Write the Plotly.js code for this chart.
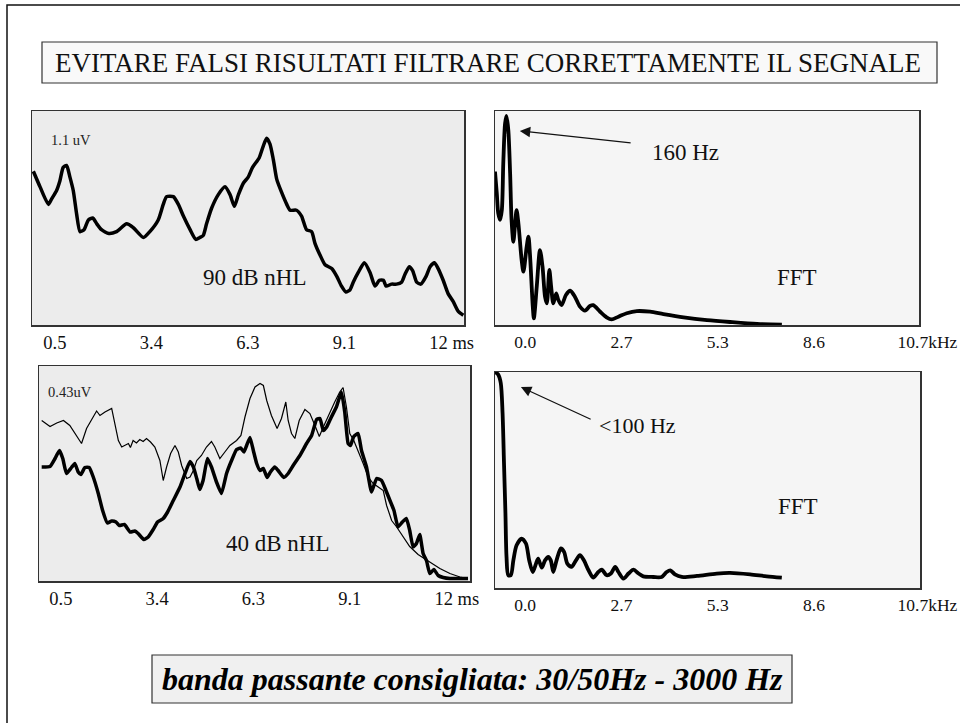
<!DOCTYPE html>
<html>
<head>
<meta charset="utf-8">
<script src="https://cdn.plot.ly/plotly-3.0.1.min.js"></script>
<style>html,body{margin:0;padding:0;background:#fff;}#chart{width:960px;height:723px;}</style>
</head>
<body>
<div id="chart"></div>
<script>
// ---- Data ----
// Top-left: ABR at 90 dB nHL (time ms, amplitude uV)
const t90 = [0.24,0.44,0.69,0.79,0.93,1.03,1.13,1.23,1.33,1.43,1.53,1.63,1.75,1.88,2.01,2.13,2.27,2.49,2.72,3.02,3.22,3.52,3.71,3.96,4.11,4.21,4.41,4.56,4.71,4.91,5.08,5.20,5.30,5.40,5.55,5.75,5.95,6.10,6.23,6.35,6.50,6.64,6.77,6.97,7.09,7.19,7.29,7.39,7.49,7.64,7.79,7.89,8.08,8.23,8.38,8.53,8.63,8.78,8.93,9.13,9.28,9.42,9.55,9.67,9.77,9.92,10.10,10.27,10.42,10.55,10.67,10.75,10.91,11.06,11.21,11.31,11.44,11.54,11.66,11.78,11.94,12.06,12.19,12.30,12.45,12.60,12.75,12.90,13.05];
const v90 = [0.79,0.71,0.62,0.65,0.69,0.74,0.81,0.82,0.76,0.69,0.57,0.48,0.49,0.54,0.55,0.52,0.49,0.47,0.48,0.52,0.50,0.45,0.48,0.54,0.62,0.66,0.66,0.62,0.56,0.49,0.44,0.45,0.46,0.52,0.60,0.67,0.71,0.67,0.61,0.67,0.73,0.76,0.81,0.86,0.92,0.96,0.93,0.85,0.75,0.68,0.62,0.59,0.59,0.56,0.49,0.48,0.42,0.36,0.31,0.29,0.25,0.20,0.17,0.18,0.22,0.27,0.32,0.27,0.20,0.23,0.23,0.20,0.21,0.21,0.22,0.26,0.30,0.28,0.22,0.21,0.25,0.30,0.32,0.29,0.23,0.16,0.12,0.07,0.05];

// Bottom-left: ABR at 40 dB nHL, thick trace
const t40a = [0.31,0.56,0.71,0.84,0.94,1.05,1.20,1.30,1.40,1.48,1.60,1.73,1.85,2.00,2.13,2.27,2.40,2.53,2.63,2.78,2.95,3.09,3.19,3.36,3.49,3.64,3.77,3.94,4.07,4.24,4.44,4.59,4.74,4.84,4.94,5.03,5.13,5.26,5.38,5.53,5.68,5.83,5.98,6.13,6.25,6.35,6.43,6.53,6.63,6.73,6.83,6.93,7.04,7.14,7.27,7.37,7.54,7.67,7.82,8.02,8.22,8.37,8.52,8.62,8.72,8.82,8.96,9.11,9.26,9.36,9.46,9.53,9.63,9.76,9.86,10.01,10.16,10.31,10.46,10.59,10.71,10.83,10.95,11.08,11.20,11.30,11.40,11.50,11.60,11.70,11.80,11.90,12.02,12.15,12.30,12.50,12.80,13.04];
const v40a = [0.228,0.229,0.245,0.261,0.245,0.215,0.227,0.235,0.218,0.213,0.227,0.227,0.208,0.175,0.141,0.116,0.120,0.118,0.111,0.113,0.098,0.100,0.095,0.083,0.088,0.103,0.118,0.125,0.138,0.161,0.188,0.215,0.239,0.228,0.205,0.183,0.201,0.245,0.228,0.198,0.175,0.215,0.241,0.263,0.266,0.258,0.271,0.287,0.261,0.235,0.221,0.225,0.207,0.218,0.228,0.221,0.207,0.215,0.231,0.251,0.275,0.291,0.323,0.325,0.301,0.308,0.328,0.348,0.378,0.338,0.275,0.271,0.289,0.295,0.261,0.228,0.178,0.205,0.201,0.181,0.161,0.141,0.108,0.118,0.125,0.101,0.068,0.075,0.093,0.055,0.041,0.015,0.023,0.011,0.007,0.005,0.005,0.005];

// Bottom-left: ABR at 40 dB nHL, thin trace
const t40b = [0.31,0.56,0.76,0.96,1.15,1.35,1.50,1.65,1.80,1.95,2.05,2.20,2.40,2.50,2.60,2.70,2.80,2.90,2.96,3.04,3.14,3.24,3.34,3.44,3.56,3.69,3.84,3.94,4.04,4.16,4.29,4.39,4.49,4.64,4.74,4.84,4.94,5.08,5.23,5.38,5.48,5.63,5.78,5.93,6.13,6.26,6.38,6.53,6.68,6.83,6.93,7.03,7.17,7.34,7.47,7.60,7.67,7.77,7.87,8.00,8.17,8.32,8.47,8.60,8.72,8.87,9.06,9.21,9.31,9.41,9.51,9.63,9.76,9.91,10.06,10.21,10.36,10.51,10.61,10.76,10.91,11.10,11.30,11.55,11.85,12.20,12.50,12.80,13.04];
const v40b = [0.321,0.309,0.316,0.321,0.311,0.291,0.275,0.305,0.323,0.340,0.331,0.338,0.345,0.311,0.281,0.268,0.271,0.275,0.267,0.281,0.276,0.283,0.279,0.285,0.278,0.268,0.241,0.201,0.228,0.255,0.271,0.258,0.231,0.205,0.208,0.221,0.241,0.251,0.268,0.279,0.268,0.245,0.258,0.271,0.281,0.291,0.328,0.365,0.388,0.395,0.391,0.361,0.331,0.305,0.325,0.358,0.321,0.295,0.285,0.321,0.343,0.335,0.311,0.289,0.308,0.331,0.358,0.378,0.387,0.348,0.295,0.281,0.261,0.235,0.208,0.195,0.188,0.181,0.151,0.121,0.108,0.088,0.069,0.053,0.040,0.025,0.015,0.008,0.005];

// Top-right: FFT of 90 dB response (kHz, relative magnitude)
const f1 = [-0.50,-0.45,-0.41,-0.36,-0.31,-0.27,-0.22,-0.18,-0.13,-0.08,-0.04,0.01,0.06,0.10,0.15,0.24,0.29,0.38,0.43,0.47,0.55,0.58,0.66,0.75,0.82,0.89,0.94,1.01,1.06,1.12,1.20,1.26,1.35,1.47,1.59,1.72,1.86,2.00,2.14,2.23,2.42,2.60,2.74,2.93,3.16,3.44,3.81,4.18,4.74,5.39,6.03,6.78,7.47];
const a1 = [0.717,0.615,0.522,0.491,0.537,0.755,0.942,0.977,0.911,0.709,0.491,0.389,0.475,0.537,0.475,0.304,0.249,0.366,0.413,0.335,0.086,0.031,0.179,0.350,0.273,0.132,0.101,0.257,0.179,0.101,0.148,0.117,0.093,0.140,0.160,0.132,0.086,0.067,0.089,0.093,0.062,0.036,0.026,0.039,0.055,0.065,0.062,0.051,0.036,0.023,0.014,0.005,0.002];

// Bottom-right: FFT of 40 dB response
const f2 = [-0.50,-0.41,-0.34,-0.29,-0.25,-0.21,-0.18,-0.13,-0.06,0.01,0.10,0.24,0.36,0.45,0.55,0.64,0.70,0.80,0.89,0.98,1.05,1.12,1.21,1.33,1.42,1.51,1.63,1.75,1.86,1.97,2.10,2.23,2.37,2.47,2.60,2.72,2.84,2.93,3.07,3.21,3.35,3.49,3.62,3.90,4.13,4.27,4.37,4.50,4.69,5.11,5.66,6.03,6.59,7.05,7.47];
const a2 = [1.000,0.988,0.949,0.810,0.577,0.345,0.144,0.059,0.059,0.128,0.198,0.229,0.206,0.128,0.074,0.113,0.136,0.094,0.128,0.144,0.128,0.074,0.128,0.183,0.167,0.113,0.098,0.128,0.152,0.128,0.082,0.048,0.074,0.085,0.059,0.067,0.098,0.074,0.043,0.067,0.085,0.067,0.054,0.051,0.051,0.074,0.082,0.063,0.051,0.056,0.067,0.070,0.063,0.054,0.048];

// Tick labels
const msTickVals = [0.5, 3.375, 6.25, 9.125, 12];
const msTickText = ['0.5', '3.4', '6.3', '9.1', '12 ms'];
const kHzTickVals = [0, 2.675, 5.35, 8.025, 10.65];
const kHzTickText = ['0.0', '2.7', '5.3', '8.6', '10.7kHz'];

// ---- Layout helpers ----
const W = 960, H = 723;
const px = x => x / W;
const py = y => 1 - y / H;
const SERIF = 'Liberation Serif, Times New Roman, serif';
const BLACK = '#000';

function xax(domain, range, vals, text, ticklen, fs) {
  return {
    domain: domain, range: range, tickmode: 'array', tickvals: vals, ticktext: text,
    ticks: 'outside', ticklen: ticklen, tickcolor: 'rgba(0,0,0,0)',
    ticklabelposition: 'outside right', ticklabeloverflow: 'allow',
    showgrid: false, zeroline: false, showline: true, mirror: true,
    linecolor: '#333', linewidth: 1.5,
    tickfont: {family: SERIF, size: fs, color: '#111'}
  };
}
function yax(domain, range) {
  return {
    domain: domain, range: range, showticklabels: false, ticks: '',
    showgrid: false, zeroline: false, showline: true, mirror: true,
    linecolor: '#333', linewidth: 1.5
  };
}

const traces = [
  {x: t90, y: v90, xaxis: 'x', yaxis: 'y', type: 'scatter', mode: 'lines',
   line: {color: BLACK, width: 3.5, shape: 'spline', smoothing: 0.6}, hoverinfo: 'skip'},
  {x: f1, y: a1, xaxis: 'x2', yaxis: 'y2', type: 'scatter', mode: 'lines',
   line: {color: BLACK, width: 3.8, shape: 'spline', smoothing: 0.8}, hoverinfo: 'skip'},
  {x: t40b, y: v40b, xaxis: 'x3', yaxis: 'y3', type: 'scatter', mode: 'lines',
   line: {color: BLACK, width: 1.2}, hoverinfo: 'skip'},
  {x: t40a, y: v40a, xaxis: 'x3', yaxis: 'y3', type: 'scatter', mode: 'lines',
   line: {color: BLACK, width: 3.5, shape: 'spline', smoothing: 0.4}, hoverinfo: 'skip'},
  {x: f2, y: a2, xaxis: 'x4', yaxis: 'y4', type: 'scatter', mode: 'lines',
   line: {color: BLACK, width: 3.8, shape: 'spline', smoothing: 0.8}, hoverinfo: 'skip'}
];

const layout = {
  width: W, height: H, margin: {l: 0, r: 0, t: 0, b: 0},
  paper_bgcolor: '#fff', showlegend: false,
  font: {family: SERIF, color: '#111'},
  title: {
    text: 'EVITARE FALSI RISULTATI FILTRARE CORRETTAMENTE IL SEGNALE',
    x: px(488), xanchor: 'center', y: py(63), yanchor: 'middle',
    xref: 'paper', yref: 'paper',
    font: {family: SERIF, size: 27, color: '#111'}
  },
  xaxis: Object.assign(xax([px(32), px(464)], [0.2, 13.07], msTickVals, msTickText, 8, 18.5), {anchor: 'y'}),
  yaxis: Object.assign(yax([py(325), py(111)], [0, 1.1]), {anchor: 'x'}),
  xaxis2: Object.assign(xax([px(495), px(919)], [-0.5, 11.28], kHzTickVals, kHzTickText, 14, 17.5), {anchor: 'y2'}),
  yaxis2: Object.assign(yax([py(325), py(111)], [0, 1]), {anchor: 'x2'}),
  xaxis3: Object.assign(xax([px(39), px(470)], [0.23, 13.10], msTickVals, msTickText, 7, 18.5), {anchor: 'y3'}),
  yaxis3: Object.assign(yax([py(581), py(366)], [0, 0.43]), {anchor: 'x3'}),
  xaxis4: Object.assign(xax([px(495), px(920)], [-0.5, 11.31], kHzTickVals, kHzTickText, 7, 17.5), {anchor: 'y4'}),
  yaxis4: Object.assign(yax([py(588), py(372)], [0, 1]), {anchor: 'x4'}),
  shapes: [
    // outer frame
    {type: 'rect', xref: 'paper', yref: 'paper', x0: px(7), x1: 1.05, y0: -0.05, y1: py(5),
     line: {color: '#111', width: 1.5}, layer: 'below'},
    // title box
    {type: 'rect', xref: 'paper', yref: 'paper', x0: px(42), x1: px(937), y0: py(83), y1: py(42),
     line: {color: '#333', width: 1.2}, fillcolor: '#f9f9f9', layer: 'below'},
    // bottom box
    {type: 'rect', xref: 'paper', yref: 'paper', x0: px(152), x1: px(792), y0: py(703), y1: py(655),
     line: {color: '#333', width: 1.2}, fillcolor: '#f0f0f0', layer: 'below'},
    // panel backgrounds
    {type: 'rect', xref: 'x domain', yref: 'y domain', x0: 0, x1: 1, y0: 0, y1: 1,
     line: {width: 0}, fillcolor: '#ececec', layer: 'below'},
    {type: 'rect', xref: 'x2 domain', yref: 'y2 domain', x0: 0, x1: 1, y0: 0, y1: 1,
     line: {width: 0}, fillcolor: '#f5f5f5', layer: 'below'},
    {type: 'rect', xref: 'x3 domain', yref: 'y3 domain', x0: 0, x1: 1, y0: 0, y1: 1,
     line: {width: 0}, fillcolor: '#ececec', layer: 'below'},
    {type: 'rect', xref: 'x4 domain', yref: 'y4 domain', x0: 0, x1: 1, y0: 0, y1: 1,
     line: {width: 0}, fillcolor: '#f5f5f5', layer: 'below'}
  ],
  annotations: [
    {xref: 'x', yref: 'y', x: 1.36, y: 0.951, text: '1.1 uV', showarrow: false,
     font: {family: SERIF, size: 14.5, color: '#222'}},
    {xref: 'x', yref: 'y', x: 6.84, y: 0.242, text: '90 dB nHL', showarrow: false,
     font: {family: SERIF, size: 23, color: '#111'}},
    {xref: 'x2', yref: 'y2', x: 4.78, y: 0.808, text: '160 Hz', showarrow: false,
     font: {family: SERIF, size: 23, color: '#111'}},
    {xref: 'x2', yref: 'y2', x: 0.19, y: 0.907, ax: 3.31, ay: 0.850, axref: 'x2', ayref: 'y2',
     text: '', showarrow: true, arrowhead: 2, arrowsize: 1.6, arrowwidth: 1.3, arrowcolor: '#111'},
    {xref: 'x2', yref: 'y2', x: 7.89, y: 0.22, text: 'FFT', showarrow: false,
     font: {family: SERIF, size: 23, color: '#111'}},
    {xref: 'x3', yref: 'y3', x: 1.16, y: 0.378, text: '0.43uV', showarrow: false,
     font: {family: SERIF, size: 14.5, color: '#222'}},
    {xref: 'x3', yref: 'y3', x: 7.37, y: 0.076, text: '40 dB nHL', showarrow: false,
     font: {family: SERIF, size: 23, color: '#111'}},
    {xref: 'x4', yref: 'y4', x: 3.47, y: 0.75, text: '&lt;100 Hz', showarrow: false,
     font: {family: SERIF, size: 22, color: '#111'}},
    {xref: 'x4', yref: 'y4', x: 0.22, y: 0.93, ax: 2.20, ay: 0.778, axref: 'x4', ayref: 'y4',
     text: '', showarrow: true, arrowhead: 2, arrowsize: 1.6, arrowwidth: 1.3, arrowcolor: '#111'},
    {xref: 'x4', yref: 'y4', x: 7.92, y: 0.375, text: 'FFT', showarrow: false,
     font: {family: SERIF, size: 23, color: '#111'}},
    {xref: 'paper', yref: 'paper', x: px(472), y: py(679), text: '<b><i>banda passante consigliata: 30/50Hz - 3000 Hz</i></b>',
     showarrow: false, xanchor: 'center', yanchor: 'middle',
     font: {family: SERIF, size: 32, color: '#000'}}
  ]
};

Plotly.newPlot('chart', traces, layout, {staticPlot: true, displayModeBar: false});
</script>
</body>
</html>
